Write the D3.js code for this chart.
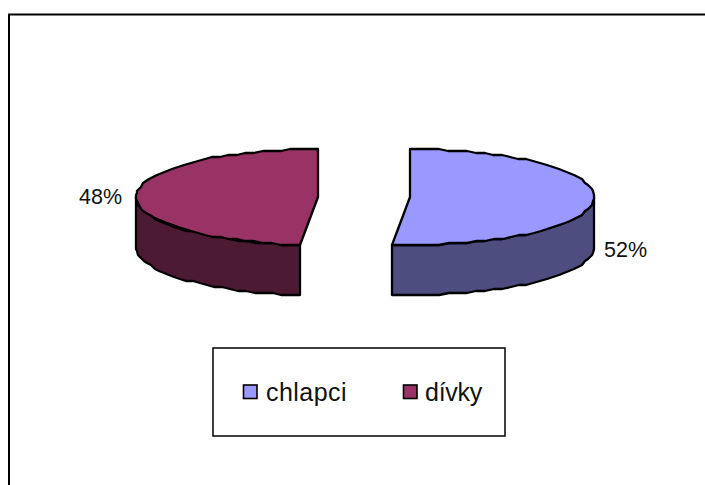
<!DOCTYPE html>
<meta charset="utf-8">

<script src="https://d3js.org/d3.v7.min.js"></script>

<style type="text/css">
body { margin: 0; background: #fff; }
svg { display: block; }
text { font-family: "Liberation Sans", Arial, sans-serif; fill: #111; }
</style>

<body>
</body>

<script>

// values (labels show them rounded)
var categories = ["chlapci", "dívky"];
var values = [51.6, 48.4];
var topColors = ["#9999ff", "#993366"];
var sideColors = ["#4d4d80", "#4d1a33"];

var width = 705;
var height = 485;

// pie layout: centre of each exploded slice and its ellipse
var centerX = [410, 318];
var radiusX = [184, 182];
var centerY = 197;
var radiusY = 48;
var depth = 50;

var svg = d3.select("body").append("svg")
  .attr("width", width)
  .attr("height", height);

// frame: only the top and left edges show in the picture
svg.append("path")
  .attr("d", "M9,485V14.4H705")
  .attr("fill", "none")
  .attr("stroke", "#000")
  .attr("stroke-width", 2);

var slices = d3.pie().sort(null)(values);

var line = d3.line();

function drawSlice(d, i) {
  var x = d3.scaleLinear().domain([-1, 1]).range([centerX[i] - radiusX[i], centerX[i] + radiusX[i]]);
  var y = d3.scaleLinear().domain([-1, 1]).range([-radiusY, radiusY]);

  // stepped points, the original rim is visibly jagged
  function rim(a0, a1, dy) {
    var n = Math.ceil(Math.abs(a1 - a0) / (Math.PI / 60));
    return d3.range(n + 1).map(function(k) {
      var a = a0 + (a1 - a0) * k / n;
      return [Math.round(x(Math.sin(a))), centerY + Math.round(y(-Math.cos(a)) / 2) * 2 + dy];
    });
  }

  var g = svg.append("g").attr("class", "slice");

  // outer wall: only the front half of the rim
  var a0 = Math.max(d.startAngle, Math.PI / 2);
  var a1 = Math.min(d.endAngle, 3 * Math.PI / 2);
  var wall = rim(a0, a1, 0).concat(rim(a1, a0, depth));
  g.append("path")
    .attr("d", line(wall) + "Z")
    .attr("fill", sideColors[i]);

  // cut face is visible only on the left slice
  if (d.startAngle > Math.PI) {
    var c = [x(0), centerY];
    var e = rim(d.startAngle, d.startAngle, 0)[0];
    g.append("path")
      .attr("d", line([c, e, [e[0], e[1] + depth], [c[0], c[1] + depth]]) + "Z")
      .attr("fill", sideColors[i]);
  }

  // top of the slice
  g.append("path")
    .attr("d", line([[x(0), centerY]].concat(rim(d.startAngle, d.endAngle, 0))) + "Z")
    .attr("fill", topColors[i]);

  g.selectAll("path")
    .attr("stroke", "#000")
    .attr("stroke-width", 2.3)
    .attr("stroke-linejoin", "round");
}

slices.forEach(drawSlice);

// percent labels
var labelPos = [[79, 204], [604, 257]];

svg.selectAll(".pct")
  .data(values)
  .enter().append("text")
  .attr("class", "pct")
  .attr("x", function(d, i) { return labelPos[1 - i][0]; })
  .attr("y", function(d, i) { return labelPos[1 - i][1]; })
  .style("font-size", "21.5px")
  .text(function(d) { return Math.round(d) + "%"; });

// legend
var legend = svg.append("g").attr("class", "legend");

legend.append("rect")
  .attr("x", 213)
  .attr("y", 348)
  .attr("width", 292)
  .attr("height", 88)
  .attr("fill", "#fff")
  .attr("stroke", "#000")
  .attr("stroke-width", 1.5);

var legendX = [243, 403];
var nameX = [266, 425];
var nameSpacing = [0.45, -0.25];

legend.selectAll(".swatch")
  .data(categories)
  .enter().append("rect")
  .attr("class", "swatch")
  .attr("x", function(d, i) { return legendX[i] + 0.5; })
  .attr("y", 385)
  .attr("width", 13.5)
  .attr("height", 13.5)
  .attr("fill", function(d, i) { return topColors[i]; })
  .attr("stroke", "#000")
  .attr("stroke-width", 1.6);

legend.selectAll(".name")
  .data(categories)
  .enter().append("text")
  .attr("class", "name")
  .attr("x", function(d, i) { return nameX[i]; })
  .attr("y", 401)
  .style("font-size", "25px")
  .style("letter-spacing", function(d, i) { return nameSpacing[i] + "px"; })
  .text(function(d) { return d; });

</script>
